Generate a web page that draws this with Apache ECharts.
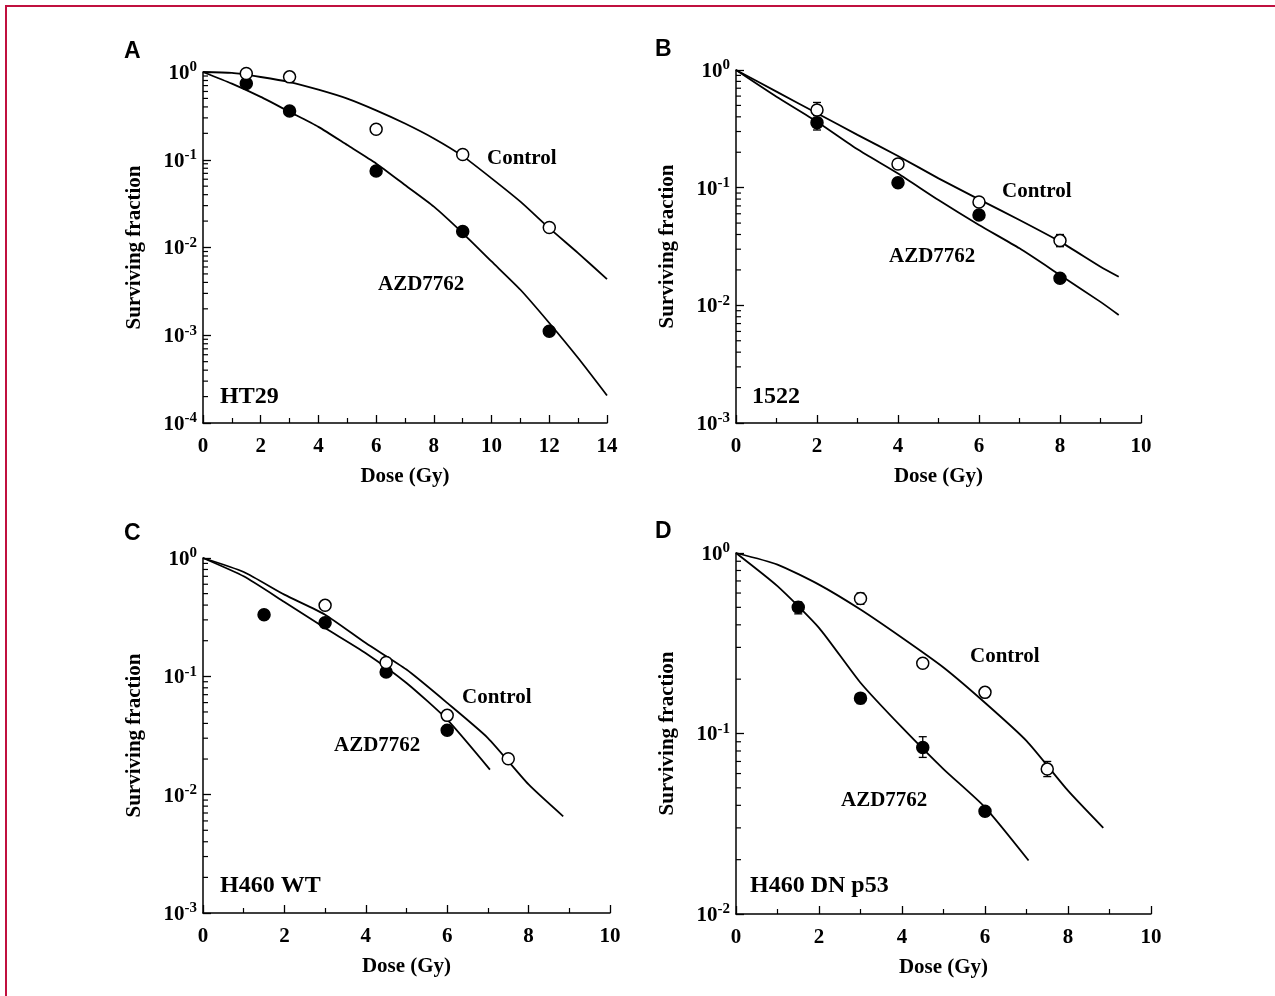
<!DOCTYPE html>
<html>
<head>
<meta charset="utf-8">
<script src="https://cdn.jsdelivr.net/npm/echarts@6/dist/echarts.min.js"></script>
<style>
html,body{margin:0;padding:0;background:#fff;}
#main{width:1275px;height:996px;}
</style>
</head>
<body>
<div id="main"></div>
<script>
// ---------- Data ----------
// Panel A: HT29
const doseA = [1.5, 3, 6, 9, 12];
const ctrlA = [0.96, 0.88, 0.223, 0.115, 0.0169];
const azdA = [0.74, 0.36, 0.0743, 0.0152, 0.00111];
const fitDoseA = [0, 1, 2, 3, 4, 5, 6, 7, 8, 9, 10, 11, 12, 13, 14];
const fitCtrlA = [1, 0.975, 0.877, 0.769, 0.630, 0.498, 0.366, 0.259, 0.175, 0.110, 0.0614, 0.0333, 0.0166, 0.00863, 0.00437];
const fitAzdA = [1, 0.736, 0.520, 0.351, 0.237, 0.147, 0.0908, 0.0515, 0.0292, 0.0146, 0.00693, 0.0033, 0.00138, 0.00055, 0.000206];

// Panel B: 1522
const doseB = [2, 4, 6, 8];
const ctrlB = [0.457, 0.159, 0.0755, 0.0355];
const azdB = [0.357, 0.110, 0.0586, 0.017];
const errCtrlB = [[2, 0.41, 0.53], [8, 0.0315, 0.040]];
const errAzdB = [[2, 0.309, 0.415]];
const fitDoseB = [0, 1, 2, 3, 4, 5, 6, 7, 8, 9, 9.45];
const fitCtrlB = [1, 0.655, 0.429, 0.281, 0.186, 0.120, 0.0796, 0.0531, 0.0348, 0.0213, 0.0175];
const fitAzdB = [1, 0.593, 0.364, 0.212, 0.132, 0.0785, 0.0482, 0.0305, 0.0181, 0.0107, 0.00828];

// Panel C: H460 WT
const doseCctrl = [3, 4.5, 6, 7.5];
const ctrlC = [0.398, 0.131, 0.0468, 0.0201];
const doseCazd = [1.5, 3, 4.5, 6];
const azdC = [0.332, 0.284, 0.109, 0.035];
const fitDoseCctrl = [0, 1, 2, 3, 4, 5, 6, 7, 8, 8.85];
const fitCtrlC = [1, 0.762, 0.490, 0.332, 0.191, 0.114, 0.0596, 0.0301, 0.0122, 0.00656];
const fitDoseCazd = [0, 1, 2, 3, 4, 5, 6, 7.05];
const fitAzdC = [1, 0.700, 0.425, 0.256, 0.157, 0.0879, 0.0431, 0.0163];

// Panel D: H460 DN p53
const doseDctrl = [3, 4.5, 6, 7.5];
const ctrlD = [0.56, 0.245, 0.169, 0.0635];
const doseDazd = [1.5, 3, 4.5, 6];
const azdD = [0.501, 0.157, 0.0837, 0.0371];
const errCtrlD = [[3, 0.52, 0.60], [7.5, 0.0577, 0.070]];
const errAzdD = [[1.5, 0.46, 0.536], [3, 0.1465, 0.165], [4.5, 0.0737, 0.096], [6, 0.035, 0.039]];
const fitDoseDctrl = [0, 1, 2, 3, 4, 5, 6, 7, 8, 8.85];
const fitCtrlD = [1, 0.863, 0.668, 0.486, 0.339, 0.232, 0.148, 0.091, 0.0482, 0.030];
const fitDoseDazd = [0, 1, 2, 3, 4, 5, 6, 7.05];
const fitAzdD = [1, 0.655, 0.385, 0.191, 0.108, 0.0635, 0.039, 0.0198];

const panelLetters = ['A', 'B', 'C', 'D'];
const cellLines = ['HT29', '1522', 'H460 WT', 'H460 DN p53'];
const seriesNames = ['Control', 'AZD7762'];
const xTitle = 'Dose (Gy)';
const yTitle = 'Surviving fraction';

// ---------- Layout ----------
const SERIF = '"Liberation Serif", "Times New Roman", serif';
const SANS = '"Liberation Sans", Arial, sans-serif';
const grids = [
  {left: 203, top: 72, width: 404, height: 351},
  {left: 736, top: 70, width: 405, height: 353},
  {left: 203, top: 558, width: 407, height: 355},
  {left: 736, top: 553, width: 415, height: 361}
];
const xMaxes = [14, 10, 10, 10];
const yMins = [1e-4, 1e-3, 1e-3, 1e-2];

const zip = (xs, ys) => xs.map((x, i) => [x, ys[i]]);

const xAxes = grids.map((g, i) => ({
  type: 'value', gridIndex: i, min: 0, max: xMaxes[i], interval: 2,
  name: xTitle, nameLocation: 'middle', nameGap: 43,
  nameTextStyle: {fontFamily: SERIF, fontWeight: 'bold', fontSize: 21, color: '#000'},
  axisLine: {show: true, lineStyle: {color: '#000', width: 1.5}},
  axisTick: {show: true, inside: true, length: 8, lineStyle: {color: '#000', width: 1.3}},
  minorTick: {show: true, splitNumber: 2, length: 5, lineStyle: {color: '#000', width: 1.2}},
  axisLabel: {fontFamily: SERIF, fontWeight: 'bold', fontSize: 21, color: '#000', margin: 13},
  splitLine: {show: false}
}));

const yAxes = grids.map((g, i) => ({
  type: 'log', logBase: 10, gridIndex: i, min: yMins[i], max: 1,
  name: yTitle, nameLocation: 'middle', nameGap: 58, nameRotate: 90,
  nameTextStyle: {fontFamily: SERIF, fontWeight: 'bold', fontSize: 21, color: '#000'},
  axisLine: {show: true, lineStyle: {color: '#000', width: 1.5}},
  axisTick: {show: true, inside: true, length: 8, lineStyle: {color: '#000', width: 1.3}},
  axisLabel: {
    margin: 6,
    formatter: v => '{b|10}{s|' + Math.round(Math.log10(v)) + '}',
    rich: {
      b: {fontFamily: SERIF, fontWeight: 'bold', fontSize: 21, color: '#000', verticalAlign: 'bottom', lineHeight: 24},
      s: {fontFamily: SERIF, fontWeight: 'bold', fontSize: 15, color: '#000', verticalAlign: 'top', lineHeight: 24, padding: [0, 0, 10, 0]}
    }
  },
  splitLine: {show: false}
}));

// minor ticks on the log axes (2..9 x 10^k)
function logMinor(min) {
  const out = [];
  for (let e = Math.round(Math.log10(min)); e < 0; e++) {
    for (let m = 2; m <= 9; m++) out.push([0, m * Math.pow(10, e)]);
  }
  return out;
}

const series = [];
function lineS(i, data) {
  series.push({type: 'line', xAxisIndex: i, yAxisIndex: i, data, showSymbol: false, symbol: 'none',
    lineStyle: {color: '#000', width: 1.8}, smooth: 0.2, z: 2, silent: true});
}
function ptsS(i, data, filled) {
  series.push({type: 'scatter', xAxisIndex: i, yAxisIndex: i, data, symbol: 'circle', symbolSize: 12,
    itemStyle: {color: filled ? '#000' : '#fff', borderColor: '#000', borderWidth: 1.5, opacity: 1}, z: 4});
}
function errS(i, data) {
  series.push({type: 'custom', xAxisIndex: i, yAxisIndex: i, data, z: 3,
    renderItem: (params, api) => {
      const lo = api.coord([api.value(0), api.value(1)]);
      const hi = api.coord([api.value(0), api.value(2)]);
      const w = 4;
      return {type: 'group', children: [
        {type: 'line', shape: {x1: lo[0], y1: lo[1], x2: hi[0], y2: hi[1]}, style: {stroke: '#000', lineWidth: 1.3}},
        {type: 'line', shape: {x1: lo[0] - w, y1: lo[1], x2: lo[0] + w, y2: lo[1]}, style: {stroke: '#000', lineWidth: 1.3}},
        {type: 'line', shape: {x1: hi[0] - w, y1: hi[1], x2: hi[0] + w, y2: hi[1]}, style: {stroke: '#000', lineWidth: 1.3}}
      ]};
    }});
}
function minorS(i) {
  series.push({type: 'custom', xAxisIndex: i, yAxisIndex: i, data: logMinor(yMins[i]), z: 1, silent: true,
    renderItem: (params, api) => {
      const p = api.coord([api.value(0), api.value(1)]);
      return {type: 'line', shape: {x1: p[0], y1: p[1], x2: p[0] + 5, y2: p[1]}, style: {stroke: '#000', lineWidth: 1.2}};
    }});
}

// Panel A
lineS(0, zip(fitDoseA, fitCtrlA)); lineS(0, zip(fitDoseA, fitAzdA));
ptsS(0, zip(doseA, azdA), true); ptsS(0, zip(doseA, ctrlA), false); minorS(0);
// Panel B
lineS(1, zip(fitDoseB, fitCtrlB)); lineS(1, zip(fitDoseB, fitAzdB));
errS(1, errCtrlB); errS(1, errAzdB);
ptsS(1, zip(doseB, azdB), true); ptsS(1, zip(doseB, ctrlB), false); minorS(1);
// Panel C
lineS(2, zip(fitDoseCctrl, fitCtrlC)); lineS(2, zip(fitDoseCazd, fitAzdC));
ptsS(2, zip(doseCazd, azdC), true); ptsS(2, zip(doseCctrl, ctrlC), false); minorS(2);
// Panel D
lineS(3, zip(fitDoseDctrl, fitCtrlD)); lineS(3, zip(fitDoseDazd, fitAzdD));
errS(3, errCtrlD); errS(3, errAzdD);
ptsS(3, zip(doseDazd, azdD), true); ptsS(3, zip(doseDctrl, ctrlD), false); minorS(3);

// text annotations
const letterPos = [[124, 52], [655, 50], [124, 534], [655, 532]];
const cellPos = [[220, 397], [752, 397], [220, 886], [750, 886]];
const ctrlPos = [[487, 159], [1002, 192], [462, 698], [970, 657]];
const azdPos = [[378, 285], [889, 257], [334, 746], [841, 801]];
const graphic = [{type: 'rect', shape: {x: 6, y: 6, width: 1400, height: 1200}, style: {fill: 'none', stroke: '#c0103f', lineWidth: 2}, z: 0}];
for (let i = 0; i < 4; i++) {
  graphic.push({type: 'text', x: letterPos[i][0], y: letterPos[i][1], style: {text: panelLetters[i], fontFamily: SANS, fontWeight: 'bold', fontSize: 23, fill: '#000', verticalAlign: 'middle'}});
  graphic.push({type: 'text', x: cellPos[i][0], y: cellPos[i][1], style: {text: cellLines[i], fontFamily: SERIF, fontWeight: 'bold', fontSize: 24, fill: '#000', verticalAlign: 'middle'}});
  graphic.push({type: 'text', x: ctrlPos[i][0], y: ctrlPos[i][1], style: {text: seriesNames[0], fontFamily: SERIF, fontWeight: 'bold', fontSize: 21, fill: '#000', verticalAlign: 'middle'}});
  graphic.push({type: 'text', x: azdPos[i][0], y: azdPos[i][1], style: {text: seriesNames[1], fontFamily: SERIF, fontWeight: 'bold', fontSize: 21, fill: '#000', verticalAlign: 'middle'}});
}

const chart = echarts.init(document.getElementById('main'), null, {renderer: 'canvas'});
chart.setOption({
  backgroundColor: '#fff',
  animation: false,
  grid: grids,
  xAxis: xAxes,
  yAxis: yAxes,
  series,
  graphic
});
</script>
</body>
</html>
